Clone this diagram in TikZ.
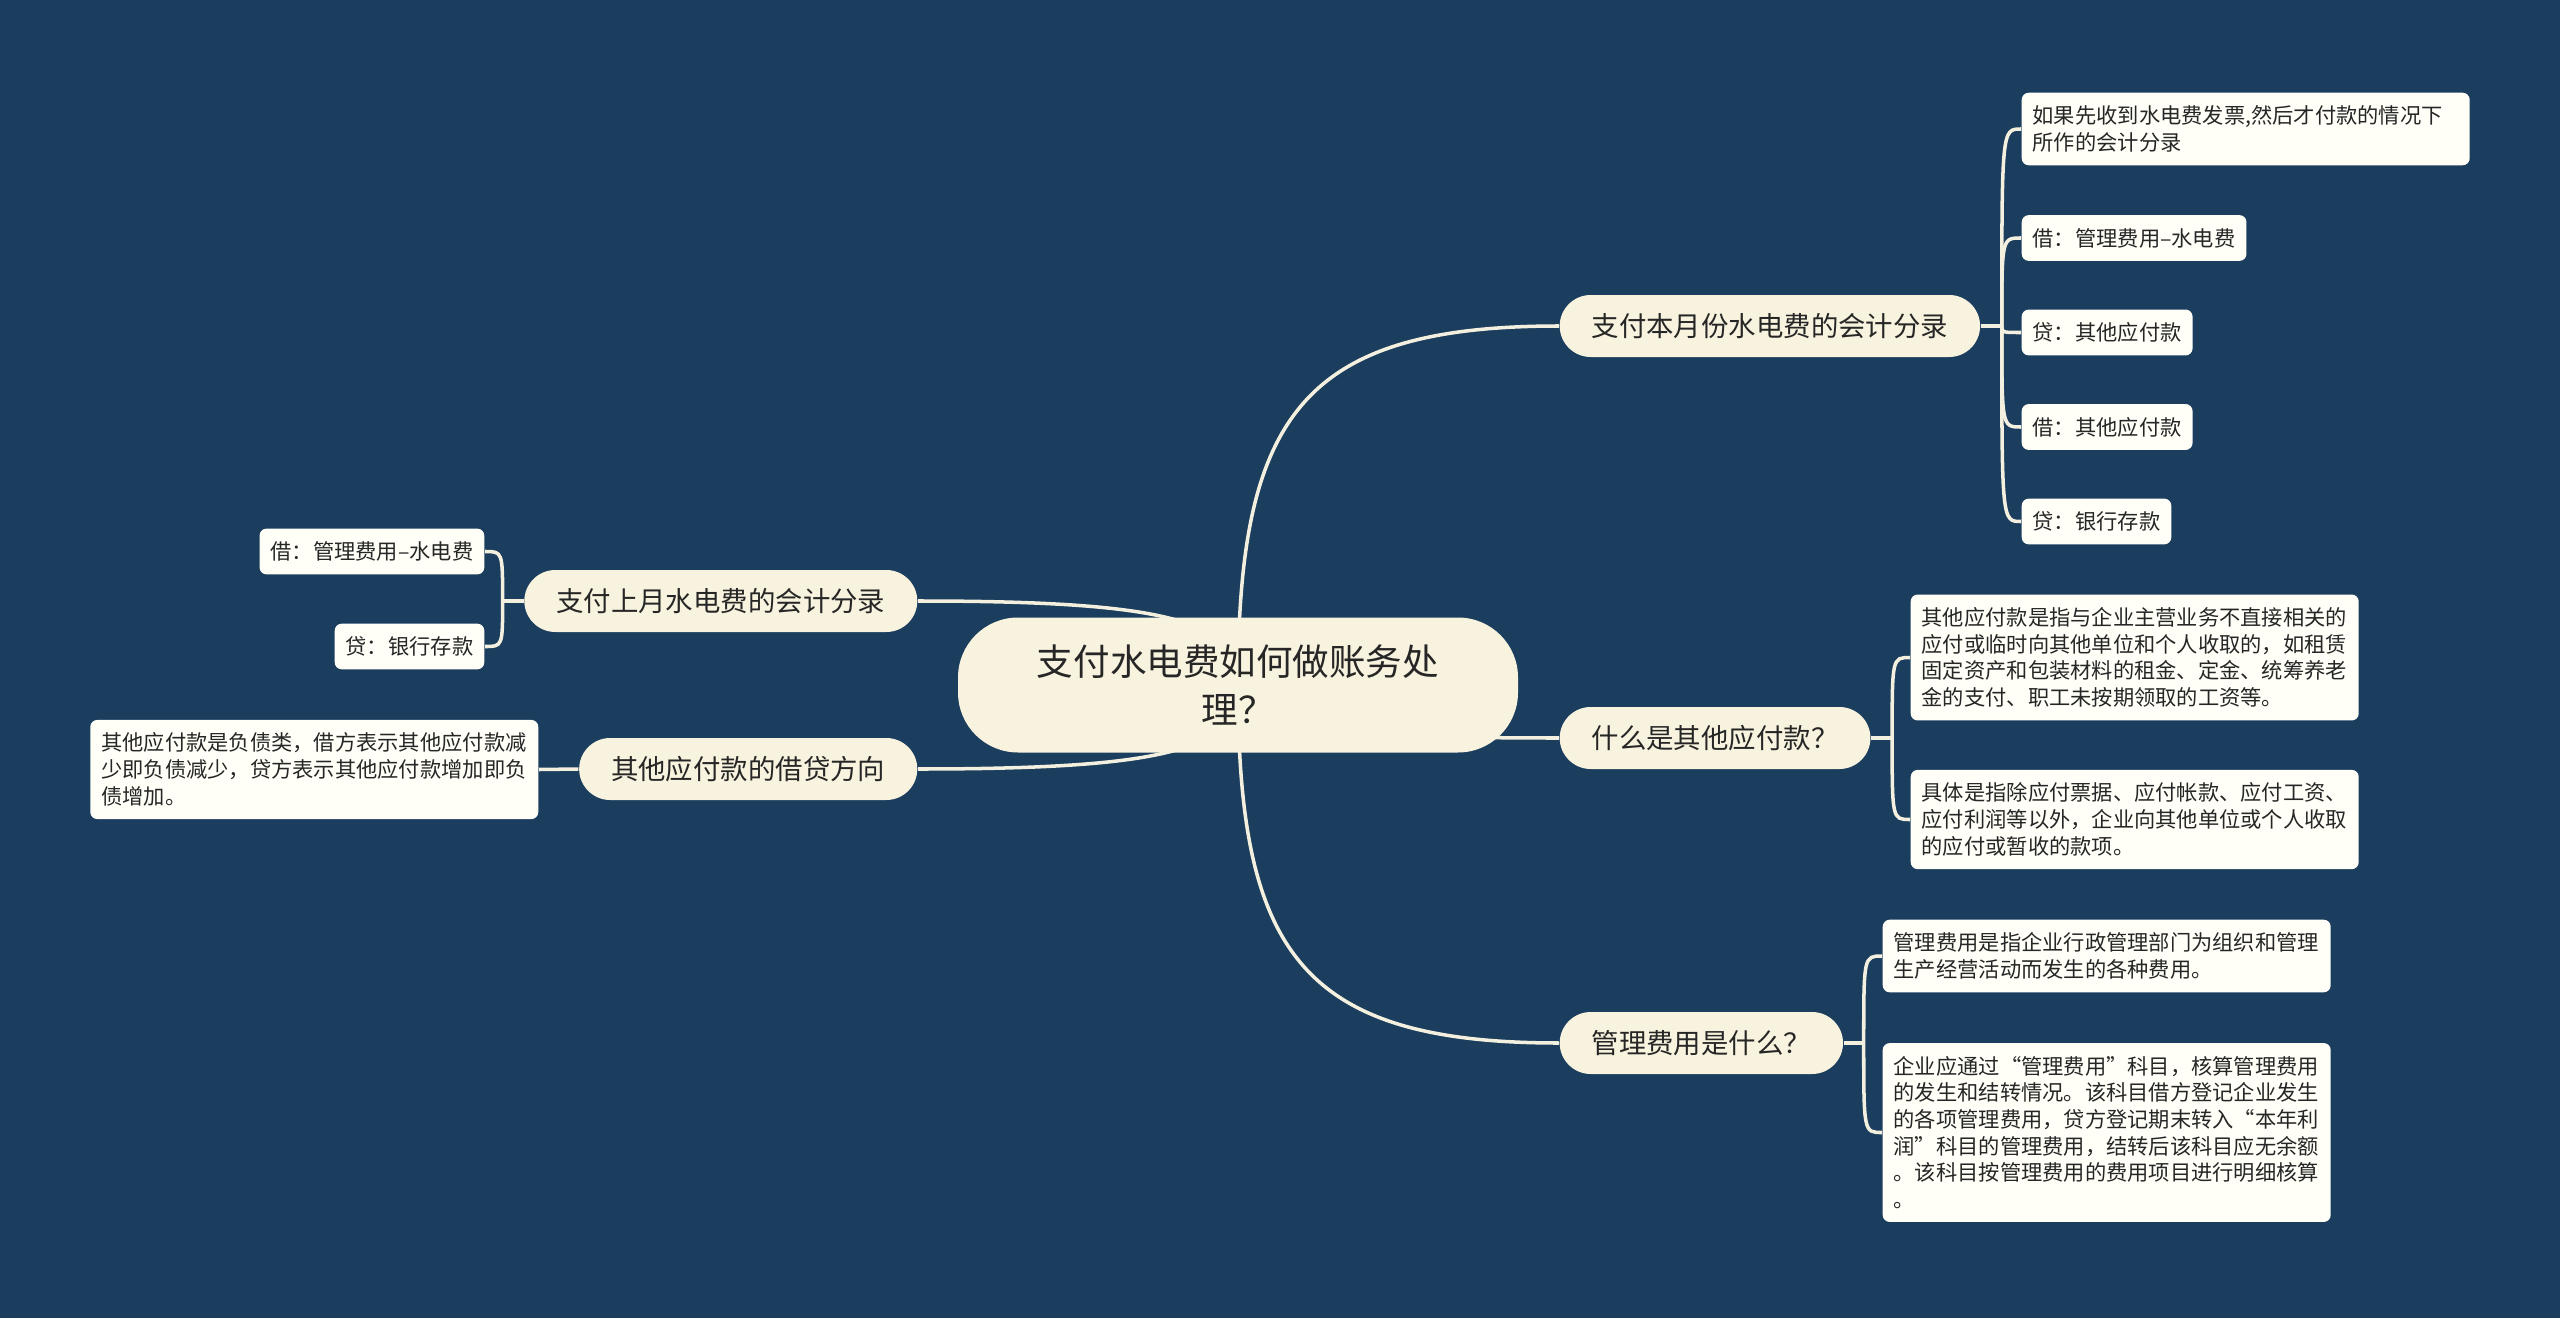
\documentclass[tikz,border=0pt]{standalone}
\usepackage{fontspec}
\setmainfont{Noto Sans CJK SC}
\usepackage{xcolor}
\usetikzlibrary{positioning,calc,backgrounds}

\definecolor{bgblue}{HTML}{1B3D5E}
\definecolor{cream}{HTML}{F8F3DE}
\definecolor{paper}{HTML}{FFFFF8}
\definecolor{wire}{HTML}{F4F0DF}
\definecolor{ink}{HTML}{262626}

\begin{document}
\begin{tikzpicture}[
  root/.style={fill=cream, rounded corners=0.6cm, minimum width=5.6cm,
               minimum height=1.35cm, align=center, text=ink,
               font=\fontsize{10.4pt}{13.4pt}\selectfont},
  topic/.style={fill=cream, rounded corners=0.31cm, minimum height=0.62cm,
                inner xsep=0.32cm, text=ink, font=\fontsize{7.8pt}{9pt}\selectfont},
  leaf/.style={fill=paper, rounded corners=0.07cm, inner xsep=0.11cm, inner ysep=0.13cm,
               align=left, text=ink, font=\fontsize{6.05pt}{7.6pt}\selectfont},
  wide/.style={leaf, text width=4.26cm},
  link/.style={draw=wire, line width=1pt}
]
  \useasboundingbox (0,0) rectangle (25.6,13.18);

  \node[root] (root) at (12.38,6.33) {支付水电费如何做账务处\\理？};

  % right side
  \node[topic, anchor=west] (n1) at (15.59,9.92) {支付本月份水电费的会计分录};
  \node[topic, anchor=west] (n2) at (15.59,5.80) {什么是其他应付款？};
  \node[topic, anchor=west] (n3) at (15.59,2.75) {管理费用是什么？};

  \node[wide, anchor=west] (a1) at (20.21,11.89) {如果先收到水电费发票,然后才付款的情况下\\所作的会计分录};
  \node[leaf, anchor=west] (a2) at (20.21,10.80) {借：管理费用–水电费};
  \node[leaf, anchor=west] (a3) at (20.21,9.855) {贷：其他应付款};
  \node[leaf, anchor=west] (a4) at (20.21,8.91)  {借：其他应付款};
  \node[leaf, anchor=west] (a5) at (20.21,7.965) {贷：银行存款};

  \node[wide, anchor=west] (b1) at (19.10,6.605) {其他应付款是指与企业主营业务不直接相关的\\应付或临时向其他单位和个人收取的，如租赁\\固定资产和包装材料的租金、定金、统筹养老\\金的支付、职工未按期领取的工资等。};
  \node[wide, anchor=west] (b2) at (19.10,4.985) {具体是指除应付票据、应付帐款、应付工资、\\应付利润等以外，企业向其他单位或个人收取\\的应付或暂收的款项。};

  \node[wide, anchor=west] (c1) at (18.82,3.62) {管理费用是指企业行政管理部门为组织和管理\\生产经营活动而发生的各种费用。};
  \node[wide, anchor=west] (c2) at (18.82,1.855) {企业应通过“管理费用”科目，核算管理费用\\的发生和结转情况。该科目借方登记企业发生\\的各项管理费用，贷方登记期末转入“本年利\\润”科目的管理费用，结转后该科目应无余额\\。该科目按管理费用的费用项目进行明细核算\\。};

  % left side
  \node[topic, anchor=east] (m1) at (9.18,7.17) {支付上月水电费的会计分录};
  \node[topic, anchor=east] (m2) at (9.18,5.49) {其他应付款的借贷方向};

  \node[leaf, anchor=east] (d1) at (4.85,7.665) {借：管理费用–水电费};
  \node[leaf, anchor=east] (d2) at (4.85,6.715) {贷：银行存款};
  \node[wide, anchor=east] (e1) at (5.39,5.485) {其他应付款是负债类，借方表示其他应付款减\\少即负债减少，贷方表示其他应付款增加即负\\债增加。};

  \coordinate (j1) at ($(n1.east)+(0.21,0)$);
  \coordinate (j2) at ($(n2.east)+(0.21,0)$);
  \coordinate (j3) at ($(n3.east)+(0.20,0)$);
  \coordinate (k1) at ($(m1.west)+(-0.21,0)$);

  \begin{scope}[on background layer]
    \fill[bgblue] (0,0) rectangle (25.6,13.18);
    \foreach \t in {n1,n2,n3}
      \draw[link] (root.center) .. controls ($(root.center)!0.75!(root.center |- \t.west)$)
        and ($(\t.west)!0.8!(\t.west -| root.center)$) .. (\t.west);
    \foreach \t in {m1,m2}
      \draw[link] (root.center) .. controls ($(root.center)!0.75!(root.center |- \t.east)$)
        and ($(\t.east)!0.8!(\t.east -| root.center)$) .. (\t.east);

    \draw[link] (n1.east) -- (j1);
    \foreach \l in {a1,a2,a3,a4,a5}
      \draw[link] (j1) .. controls (j1 |- \l.west) and (j1 |- \l.west) .. (\l.west);
    \draw[link] (n2.east) -- (j2);
    \foreach \l in {b1,b2}
      \draw[link] (j2) .. controls (j2 |- \l.west) and (j2 |- \l.west) .. (\l.west);
    \draw[link] (n3.east) -- (j3);
    \foreach \l in {c1,c2}
      \draw[link] (j3) .. controls (j3 |- \l.west) and (j3 |- \l.west) .. (\l.west);
    \draw[link] (m1.west) -- (k1);
    \foreach \l in {d1,d2}
      \draw[link] (k1) .. controls (k1 |- \l.east) and (k1 |- \l.east) .. (\l.east);
    \draw[link] (m2.west) -- (e1.east);
  \end{scope}
\end{tikzpicture}
\end{document}
